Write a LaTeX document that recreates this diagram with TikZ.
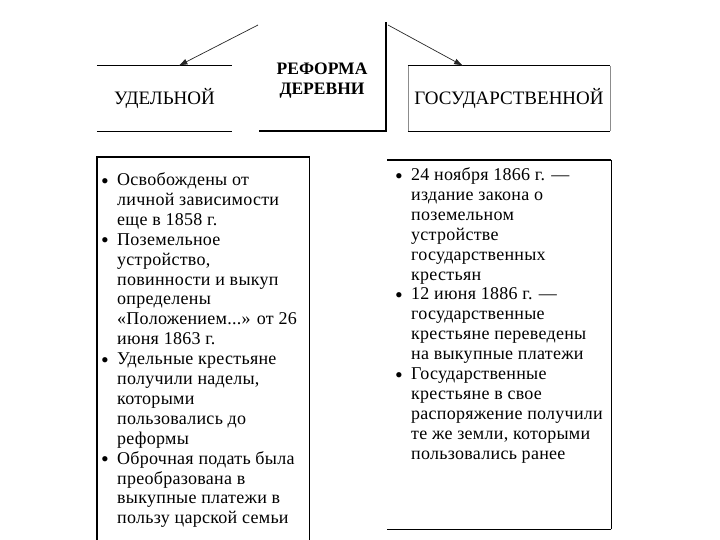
\documentclass[tikz,border=0pt]{standalone}
\usepackage{fontspec}
\setmainfont{Liberation Serif}
\newfontfamily\listfont[LetterSpace = 1.5]{Liberation Serif}
\usepackage{tikz}
\usetikzlibrary{calc}
\usetikzlibrary{arrows.meta}

\newcommand{\bul}{\makebox[16pt][l]{\raisebox{-2.5pt}{\fontsize{22}{10}\selectfont\textbullet}}}
\newcommand{\ind}{\hspace*{16pt}}

\begin{document}
\begin{tikzpicture}[x = 1pt, y = -1pt,
	frame/.style = {line width = 1.1pt, draw = black},
	thin frame/.style = {line width = 0.4pt, draw = black!45},
	pointer/.style = {line width = 0.7pt, draw = black!85, -{Latex[length = 9pt, width = 6pt]}},
	head/.style = {font = \fontsize{19}{20}\selectfont, minimum height = 65pt, inner sep = 0pt},
	title/.style = {font = \bfseries\fontsize{17.5}{20.5}\selectfont, align = center, inner sep = 0pt},
	listbox/.style = {anchor = north west, inner sep = 0pt},
	list/.style = {anchor = north west, align = left, inner sep = 0pt, font = \listfont\fontsize{18}{19.9}\selectfont}]
	\useasboundingbox (0, 0) rectangle (720, 540);
	% upper row
	\node[head, minimum width = 135pt] (udel) at (164.5, 98.5) {УДЕЛЬНОЙ};
	\draw[frame] (udel.north west) -- (udel.north east);
	\draw[frame] (udel.south west) -- (udel.south east);
	\node[head, minimum width = 202pt] (gos) at (509, 98.5) {ГОСУДАРСТВЕННОЙ};
	\draw[thin frame] (gos.north west) -- (gos.south west);
	\draw[thin frame] (gos.north east) -- (gos.south east);
	\draw[frame] (gos.north west) -- (gos.north east);
	\draw[frame] (gos.south west) -- (gos.south east);
	\node[title] (reforma) at (322, 80.5) {РЕФОРМА\\ДЕРЕВНИ};
	\coordinate (sill) at (259, 131);
	\coordinate (corner) at (386, 131);
	\coordinate (post) at (386, 22);
	\draw[frame] (sill) -- (corner) -- (post);
	\coordinate (fromleft) at (258, 25);
	\coordinate (fromright) at (388, 25);
	\draw[pointer] (fromleft) -- ($(udel.north) + (14, 0)$);
	\draw[pointer] (fromright) -- ($(gos.north) + (-46, 0)$);
	% lower row
	\node[listbox, minimum width = 212pt, minimum height = 384pt] (udelbox) at (97, 157) {};
	\draw[frame] (udelbox.south west) -- (udelbox.north west) -- (udelbox.north east) -- (udelbox.south east);
	\node[listbox, minimum width = 224pt, minimum height = 369pt] (gosbox) at (387, 160) {};
	\draw[frame] (gosbox.north west) -- (gosbox.north east);
	\draw[frame] (gosbox.north east) -- (gosbox.south east);
	\draw[frame] (gosbox.south east) -- (gosbox.south west);
	\node[list] (udellist) at ($(udelbox.north west) + (4, 15.5)$) {%
		\bul Освобождены от\\ \ind личной зависимости\\ \ind еще в 1858 г.\\
		\bul Поземельное\\ \ind устройство,\\ \ind повинности и выкуп\\ \ind определены\\
		\ind «Положением...» от 26\\ \ind июня 1863 г.\\
		\bul Удельные крестьяне\\ \ind получили наделы,\\ \ind которыми\\ \ind пользовались до\\
		\ind реформы\\
		\bul Оброчная подать была\\ \ind преобразована в\\ \ind выкупные платежи в\\
		\ind пользу царской семьи};
	\node[list] (goslist) at ($(gosbox.north west) + (8, 7.5)$) {%
		\bul 24 ноября 1866 г. —\\ \ind издание закона о\\ \ind поземельном\\ \ind устройстве\\
		\ind государственных\\ \ind крестьян\\
		\bul 12 июня 1886 г. —\\ \ind государственные\\ \ind крестьяне переведены\\
		\ind на выкупные платежи\\
		\bul Государственные\\ \ind крестьяне в свое\\ \ind распоряжение получили\\
		\ind те же земли, которыми\\ \ind пользовались ранее};
\end{tikzpicture}
\end{document}
